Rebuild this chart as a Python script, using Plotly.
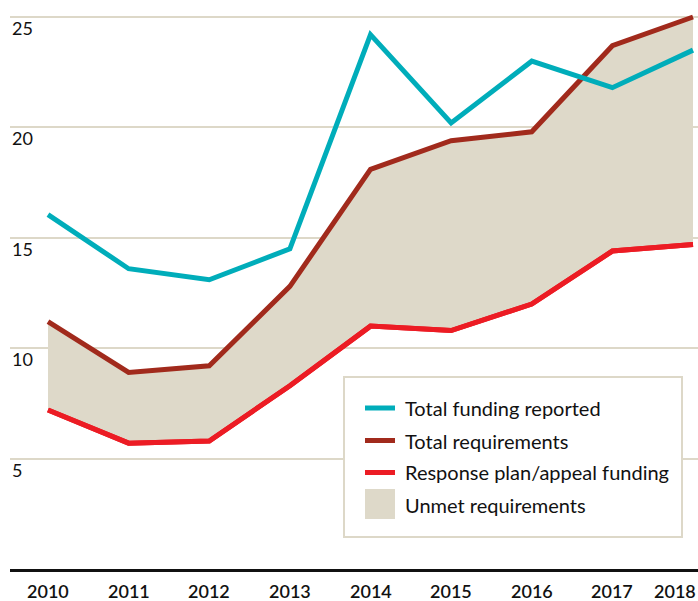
import plotly.graph_objects as go

years = [2010, 2011, 2012, 2013, 2014, 2015, 2016, 2017, 2018]
total_funding = [16.05, 13.6, 13.1, 14.5, 24.2, 20.2, 23.0, 21.8, 23.5]
total_requirements = [11.2, 8.9, 9.2, 12.8, 18.1, 19.4, 19.8, 23.7, 25.0]
response_plan = [7.2, 5.7, 5.8, 8.3, 11.0, 10.8, 12.0, 14.4, 14.7]
y_ticks = [5, 10, 15, 20, 25]
y_tick_labels = ["5", "10", "15", "20", "25"]
x_tick_labels = [str(y) for y in years]

TEAL = "#00adba"
DARKRED = "#a12a1c"
RED = "#ec1c24"
FILL = "#ded9c9"
GRID = "#ddd8c8"
FONT = "Lato"

fig = go.Figure()
fig.add_trace(go.Scatter(x=years, y=response_plan, mode="lines",
                         line=dict(color=RED, width=5), showlegend=False))
fig.add_trace(go.Scatter(x=years, y=total_requirements, mode="lines", fill="tonexty",
                         fillcolor=FILL, line=dict(color=DARKRED, width=5), showlegend=False))
fig.add_trace(go.Scatter(x=years, y=response_plan, mode="lines",
                         line=dict(color=RED, width=5), showlegend=False))
fig.add_trace(go.Scatter(x=years, y=total_funding, mode="lines",
                         line=dict(color=TEAL, width=5), showlegend=False))

annotations = []
for v, t in zip(y_ticks, y_tick_labels):
    annotations.append(dict(xref="paper", yref="y", x=0, y=v, text=t, showarrow=False,
                            xanchor="left", yanchor="top", yshift=2,
                            font=dict(family=FONT, size=18, color="#111")))
for i, (yr, t) in enumerate(zip(years, x_tick_labels)):
    last = i == len(years) - 1
    annotations.append(dict(xref="x", yref="paper", x=yr, y=0, text=t, showarrow=False,
                            xanchor="right" if last else "center", yanchor="top",
                            xshift=5 if last else 0, yshift=-9,
                            font=dict(family=FONT, size=18, color="#111", weight=600)))

W, H = 698, 601
ml, mr, mt, mb = 10, 0, 0, 32
pw, ph = W - ml - mr, H - mt - mb

def px(xp):
    return (xp - ml) / pw

def py(yp):
    return 1 - (yp - mt) / ph

shapes = [dict(type="rect", xref="paper", yref="paper", x0=px(344), x1=px(682),
               y0=py(537), y1=py(377), line=dict(color=GRID, width=2), fillcolor="white")]
legend_items = [("Total funding reported", TEAL, "line"),
                ("Total requirements", DARKRED, "line"),
                ("Response plan/appeal funding", RED, "line"),
                ("Unmet requirements", FILL, "box")]
rows = [408, 440.5, 472.5, 505]
for (label, col, kind), ry in zip(legend_items, rows):
    if kind == "line":
        shapes.append(dict(type="line", xref="paper", yref="paper", x0=px(365), x1=px(395),
                           y0=py(ry), y1=py(ry), line=dict(color=col, width=5)))
    else:
        shapes.append(dict(type="rect", xref="paper", yref="paper", x0=px(365), x1=px(395),
                           y0=py(519), y1=py(489), line=dict(width=0), fillcolor=col))
    annotations.append(dict(xref="paper", yref="paper", x=px(403), y=py(ry), text=label,
                            showarrow=False, xanchor="left", yanchor="middle",
                            font=dict(family=FONT, size=20, color="#111")))

fig.update_layout(
    width=W, height=H,
    margin=dict(l=ml, r=mr, t=mt, b=mb),
    paper_bgcolor="white", plot_bgcolor="white",
    xaxis=dict(range=[2010 - 38 / 80.625, 2018 + 5 / 80.625], showgrid=False,
               showticklabels=False, ticks="", zeroline=False,
               showline=True, linecolor="#111", linewidth=3, mirror=False),
    yaxis=dict(range=[0, 569 / 22.08], tickvals=y_ticks, showticklabels=False,
               gridcolor=GRID, gridwidth=2, zeroline=False, ticks=""),
    shapes=shapes, annotations=annotations,
    showlegend=False,
)
fig.write_html("out.html", config={"displayModeBar": False},
               post_script="document.body.style.margin='0';document.body.style.overflow='hidden';")
